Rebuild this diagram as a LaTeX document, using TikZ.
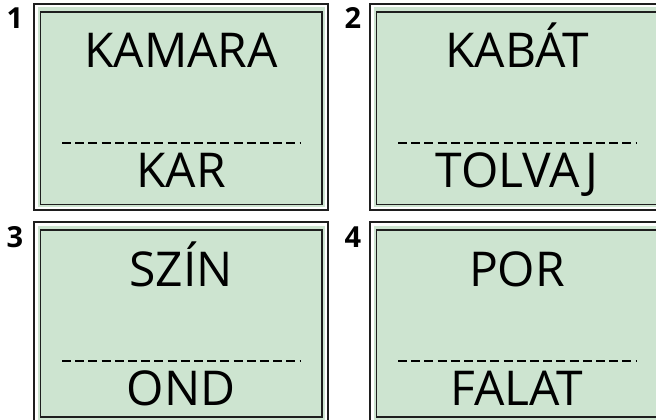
\documentclass[tikz,border=0pt]{standalone}
\usepackage{fontspec}
\setmainfont{Open Sans}
\definecolor{cardgreen}{RGB}{205,228,208}
\definecolor{edgedark}{RGB}{30,30,30}
\tikzset{
  outerframe/.style={draw=edgedark, line width=1.1pt, fill=white},
  greenfill/.style={fill=cardgreen},
  innerframe/.style={draw=edgedark, line width=1.5pt, fill=cardgreen},
  word/.style={anchor=base, inner sep=0pt, font=\fontsize{48}{50}\selectfont},
  numlabel/.style={anchor=base, inner sep=0pt, font=\fontsize{29}{31}\selectfont\bfseries},
  sepline/.style={draw=black, line width=2.6pt, dash pattern=on 9pt off 4.2pt}
}
\begin{document}
\begin{tikzpicture}[x=1pt,y=-1pt]
\useasboundingbox (0,0) rectangle (656,420);
\clip (0,0) rectangle (656,420);
% card 1
\begin{scope}[shift={(34,4)}]
  \draw[outerframe] (0,0) rectangle (294,206);
  \fill[greenfill] (3.5,3.5) rectangle (291,203);
  \draw[innerframe] (6.5,8) rectangle (288,200.5);
  \node[word] (w1a) at (147,64) {KAMARA};
  \coordinate (d1a) at (28,139);
  \coordinate (d1b) at (266,139);
  \draw[sepline] (d1a) -- (d1b);
  \node[word] (w1b) at (147,183) {KAR};
\end{scope}
% card 2
\begin{scope}[shift={(370,4)}]
  \draw[outerframe] (0,0) rectangle (294,206);
  \fill[greenfill] (3.5,3.5) rectangle (291,203);
  \draw[innerframe] (6.5,8) rectangle (288,200.5);
  \node[word] (w2a) at (147,64) {KABÁT};
  \coordinate (d2a) at (28,139);
  \coordinate (d2b) at (266,139);
  \draw[sepline] (d2a) -- (d2b);
  \node[word] (w2b) at (147,183) {TOLVAJ};
\end{scope}
% card 3
\begin{scope}[shift={(34,222)}]
  \draw[outerframe] (0,0) rectangle (294,201);
  \fill[greenfill] (3.5,3.5) rectangle (291,198);
  \draw[innerframe] (6.5,8) rectangle (288,195);
  \node[word] (w3a) at (147,64) {SZÍN};
  \coordinate (d3a) at (28,139);
  \coordinate (d3b) at (266,139);
  \draw[sepline] (d3a) -- (d3b);
  \node[word] (w3b) at (147,183) {OND};
\end{scope}
% card 4
\begin{scope}[shift={(370,222)}]
  \draw[outerframe] (0,0) rectangle (294,201);
  \fill[greenfill] (3.5,3.5) rectangle (291,198);
  \draw[innerframe] (6.5,8) rectangle (288,195);
  \node[word] (w4a) at (147,64) {POR};
  \coordinate (d4a) at (28,139);
  \coordinate (d4b) at (266,139);
  \draw[sepline] (d4a) -- (d4b);
  \node[word] (w4b) at (147,183) {FALAT};
\end{scope}
% numbers
\node[numlabel] (n1) at (15,29) {1};
\node[numlabel] (n2) at (353,29) {2};
\node[numlabel] (n3) at (15,247) {3};
\node[numlabel] (n4) at (353,247) {4};
\end{tikzpicture}
\end{document}
